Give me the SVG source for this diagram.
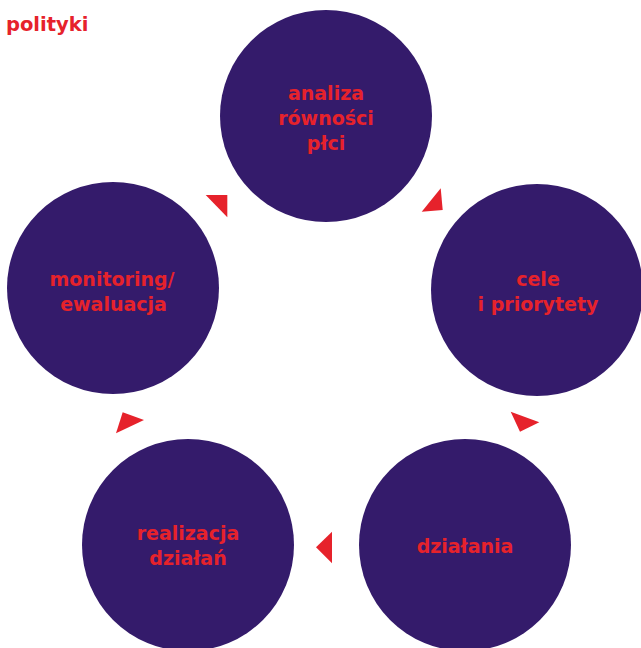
<svg xmlns="http://www.w3.org/2000/svg" width="641" height="648" viewBox="0 0 641 648">
<style>
.node circle{fill:#341b6b}
.lbl{fill:#e6222b;font-family:"DejaVu Sans",sans-serif;font-weight:bold;font-size:19px;text-anchor:middle}
.arr{fill:#e6222b}
</style>
<rect width="641" height="648" fill="#fff"/>
<text x="6" y="31" style="fill:#e6222b;font-family:'DejaVu Sans',sans-serif;font-weight:bold;font-size:19.5px">polityki</text>
<g id="analiza" class="node">
<circle cx="326" cy="116" r="106"/>
<text class="lbl" x="326" y="100">analiza</text>
<text class="lbl" x="326" y="125">równości</text>
<text class="lbl" x="326" y="150">płci</text>
</g>
<g id="cele" class="node">
<circle cx="537" cy="290" r="106"/>
<text class="lbl" x="538" y="285.5">cele</text>
<text class="lbl" x="538" y="310.5">i priorytety</text>
</g>
<g id="dzialania" class="node">
<circle cx="465" cy="545" r="106"/>
<text class="lbl" x="465" y="552.5">działania</text>
</g>
<g id="realizacja" class="node">
<circle cx="188" cy="545" r="106"/>
<text class="lbl" x="188" y="540">realizacja</text>
<text class="lbl" x="188" y="565">działań</text>
</g>
<g id="monitoring" class="node">
<circle cx="113" cy="288" r="106"/>
<text class="lbl" x="112" y="286">monitoring/</text>
<text class="lbl" x="113.5" y="310.5">ewaluacja</text>
</g>
<g id="connectors">
<polygon class="arr" points="205.7,195 227.3,195 227.3,217.3"/>
<polygon class="arr" points="440.7,188.3 421.7,211.7 442.7,210"/>
<polygon class="arr" points="510.7,411.7 539.3,422.3 520,431.7"/>
<polygon class="arr" points="332,531.7 316,547.3 332,563.3"/>
<polygon class="arr" points="122.7,412.3 144,420 116,433.3"/>
</g>
</svg>
